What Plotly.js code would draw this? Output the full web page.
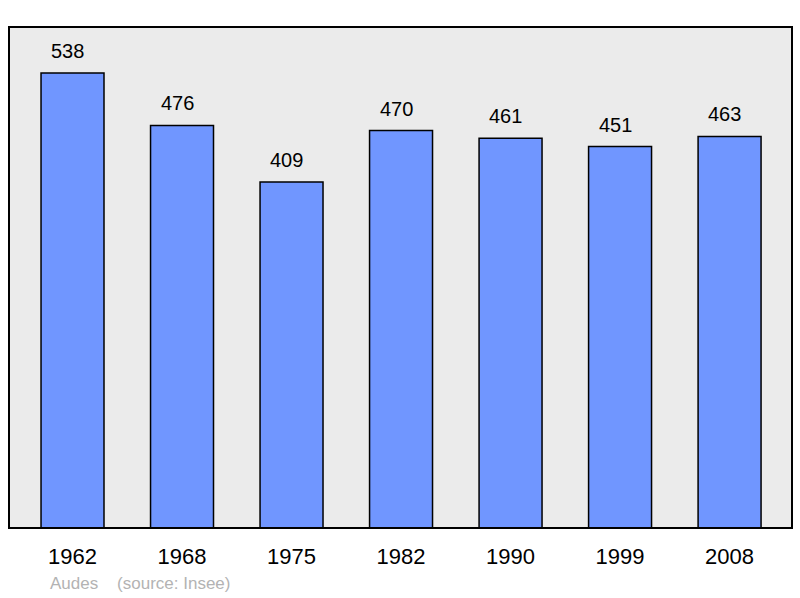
<!DOCTYPE html>
<html>
<head>
<meta charset="utf-8">
<script src="https://cdn.plot.ly/plotly-3.0.1.min.js"></script>
<style>
  body { margin: 0; background: #fff; }
  #chart { width: 800px; height: 598px; }
</style>
</head>
<body>
<div id="chart"></div>
<script>
// Population by census year
var years = ['1962', '1968', '1975', '1982', '1990', '1999', '2008'];
var population = [538, 476, 409, 470, 461, 451, 463];

var bars = {
  type: 'bar',
  x: years,
  y: population,
  width: 0.575,
  marker: {
    color: '#7096ff',
    line: { color: '#000', width: 1.5 }
  },
  hoverinfo: 'none'
};

// value labels above each bar (x as category index)
var labels = [];
for (var i = 0; i < years.length; i++) {
  labels.push({
    x: i,
    y: population[i],
    text: String(population[i]),
    showarrow: false,
    yanchor: 'bottom',
    yshift: 9,
    xshift: -5,
    font: { size: 20, color: '#000' }
  });
}
labels.push({
  xref: 'paper', yref: 'paper',
  x: 0.05, y: -0.088,
  xanchor: 'left', yanchor: 'top',
  text: 'Audes&nbsp;&nbsp;&nbsp;&nbsp;(source: Insee)',
  showarrow: false,
  font: { size: 17, color: '#b3b3b3' }
});

var layout = {
  width: 800,
  height: 598,
  margin: { l: 9, r: 8, t: 27, b: 70 },
  paper_bgcolor: '#fff',
  plot_bgcolor: '#ebebeb',
  font: { family: 'Liberation Sans, Arial, sans-serif', color: '#000' },
  showlegend: false,
  xaxis: {
    type: 'category',
    range: [-0.58, 6.57],
    showgrid: false,
    zeroline: false,
    showline: false,
    ticks: '',
    ticklabelstandoff: 13,
    tickfont: { size: 22 },
    fixedrange: true
  },
  yaxis: {
    range: [0, 592.4],
    showgrid: false,
    zeroline: false,
    showline: false,
    showticklabels: false,
    ticks: '',
    fixedrange: true
  },
  shapes: [{
    type: 'rect',
    xref: 'paper', yref: 'paper',
    x0: 0, x1: 1, y0: 0, y1: 1,
    line: { color: '#000', width: 2 },
    layer: 'above'
  }],
  annotations: labels
};

Plotly.newPlot('chart', [bars], layout, { staticPlot: true });
</script>
</body>
</html>
